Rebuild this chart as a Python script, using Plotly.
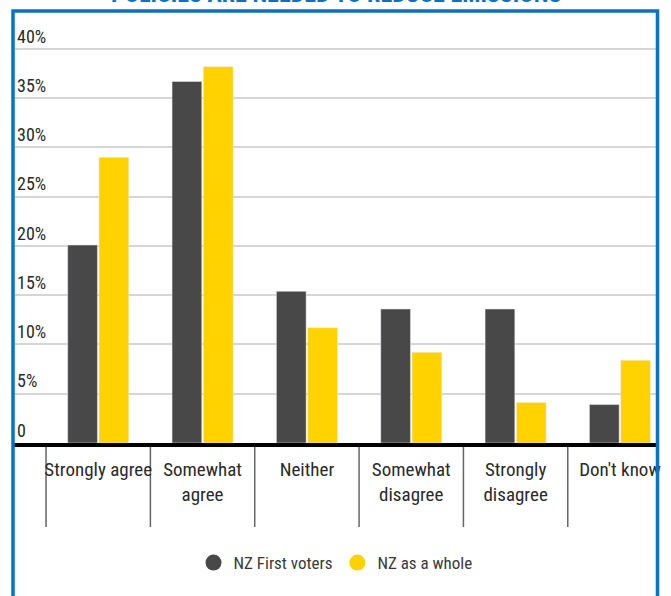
import plotly.graph_objects as go

# Survey responses: "Policies are needed to reduce emissions"
categories = ["Strongly agree", "Somewhat<br>agree", "Neither",
              "Somewhat<br>disagree", "Strongly<br>disagree", "Don't know"]
nz_first = [20.1, 36.7, 15.4, 13.6, 13.6, 3.9]
nz_whole = [29.0, 38.2, 11.7, 9.2, 4.1, 8.4]

y_tickvals = [0, 5, 10, 15, 20, 25, 30, 35, 40]
y_ticktext = ["0", "5%", "10%", "15%", "20%", "25%", "30%", "35%", "40%"]

title_text = "POLICIES ARE NEEDED TO REDUCE EMISSIONS"

DARK = "#484848"
YELLOW = "#FFD200"
BLUE = "#0A72C6"
FONT = "Liberation Sans Narrow, Roboto Condensed, DejaVu Sans Condensed, sans-serif"

W, H = 671, 596
M_L, M_R, M_T, M_B = 14, 10, 14, 153

fig = go.Figure()

fig.add_trace(go.Bar(x=categories, y=nz_first, marker_color=DARK,
                     name="NZ First voters", showlegend=False))
fig.add_trace(go.Bar(x=categories, y=nz_whole, marker_color=YELLOW,
                     name="NZ as a whole", showlegend=False))

# circular legend keys
fig.add_trace(go.Scatter(x=[None], y=[None], mode="markers", name="NZ First voters",
                         marker=dict(color=DARK, size=16, symbol="circle")))
fig.add_trace(go.Scatter(x=[None], y=[None], mode="markers", name="NZ as a whole",
                         marker=dict(color=YELLOW, size=16, symbol="circle")))

plot_w = W - M_L - M_R
plot_h = H - M_T - M_B

def px_to_paper_x(px):
    return (px - M_L) / plot_w

def px_to_paper_y(py):
    return (H - M_B - py) / plot_h

# thin dividers between the category labels, one at the left edge of each category
dividers = [dict(type="line", xref="x", yref="paper",
                 x0=i - 0.5, x1=i - 0.5, y0=0, y1=px_to_paper_y(527),
                 line=dict(color="#666666", width=1.5), layer="below")
            for i in range(len(categories))]

frame = dict(type="rect", xref="paper", yref="paper",
             x0=px_to_paper_x(13), x1=px_to_paper_x(661.5),
             y0=px_to_paper_y(620), y1=px_to_paper_y(11),
             line=dict(color=BLUE, width=3.5), fillcolor="rgba(0,0,0,0)",
             layer="above")

fig.update_layout(
    width=W, height=H,
    margin=dict(l=M_L, r=M_R, t=M_T, b=M_B),
    paper_bgcolor="white", plot_bgcolor="white",
    barmode="group", bargap=0.4, bargroupgap=0.05,
    font=dict(family=FONT, size=18, color="#2a2a2a"),
    showlegend=True,
    legend=dict(orientation="h", x=0.5, xanchor="center",
                y=px_to_paper_y(563), yanchor="middle",
                font=dict(family=FONT, size=17, color="#3a3a3a"),
                itemwidth=30, bgcolor="rgba(0,0,0,0)"),
    xaxis=dict(
        type="category",
        range=[-0.807, 5.355],
        showline=True, linecolor="black", linewidth=4,
        ticks="", tickangle=0,
        ticklabelstandoff=6,
        tickfont=dict(family=FONT, size=19, color="#2a2a2a"),
        showgrid=False, zeroline=False,
    ),
    yaxis=dict(
        range=[0, 43.55],
        tickvals=y_tickvals, ticktext=y_ticktext,
        ticklabelposition="inside top",
        tickfont=dict(family=FONT, size=18, color="#2a2a2a"),
        showgrid=True, gridcolor="#d6d6d6", gridwidth=1.5,
        zeroline=False, showline=False, ticks="",
    ),
    shapes=dividers + [frame],
    annotations=[dict(text="<b>" + title_text + "</b>", xref="paper", yref="paper",
                      x=0.5, xanchor="center", y=px_to_paper_y(10), yanchor="bottom",
                      showarrow=False,
                      font=dict(family=FONT, size=24, color=BLUE))],
)

fig.write_html("out.html")
